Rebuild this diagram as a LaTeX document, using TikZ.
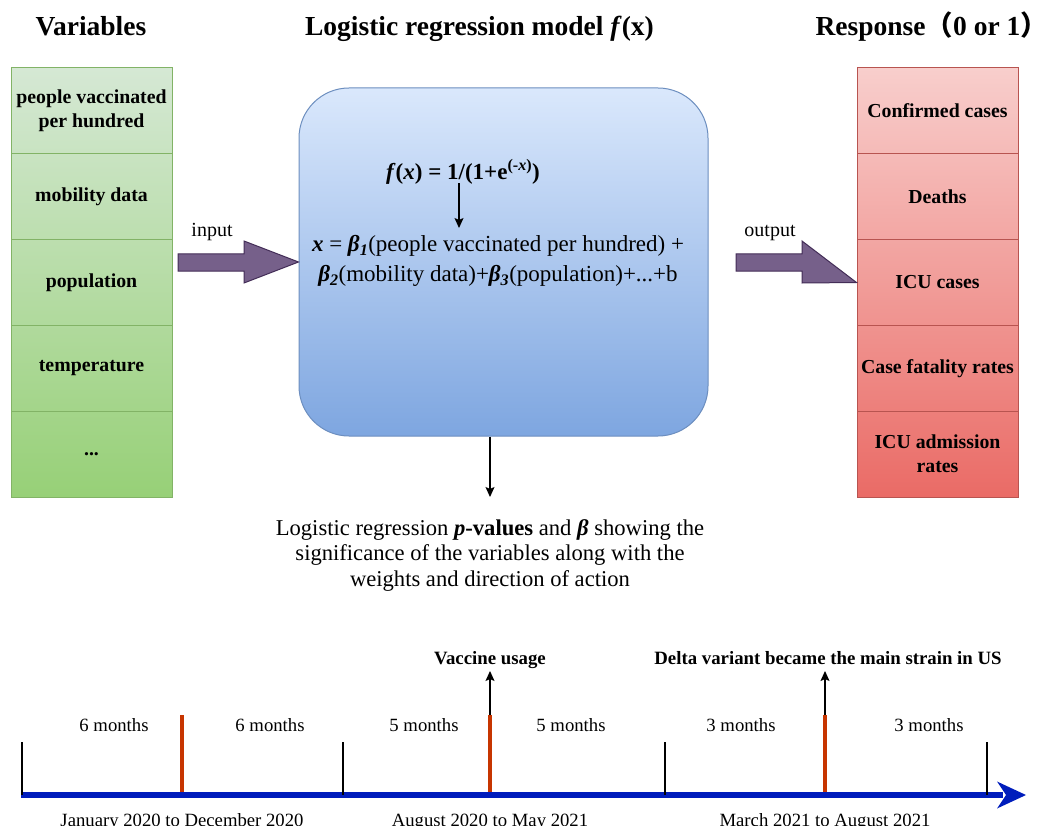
\documentclass[tikz,border=0pt]{standalone}
\usepackage{fontspec}
\setmainfont{Liberation Serif}
\newfontfamily\cjk{Noto Sans CJK SC}
\usetikzlibrary{arrows.meta}
\definecolor{grT}{HTML}{D5E8D4}
\definecolor{grB}{HTML}{97D077}
\definecolor{grD}{HTML}{82B366}
\definecolor{rdT}{HTML}{F8CECC}
\definecolor{rdB}{HTML}{EA6B66}
\definecolor{rdD}{HTML}{B85450}
\definecolor{blT}{HTML}{DAE8FC}
\definecolor{blB}{HTML}{7EA6E0}
\definecolor{blD}{HTML}{6C8EBF}
\definecolor{puF}{HTML}{76608A}
\definecolor{puD}{HTML}{432D57}
\definecolor{tlBlue}{HTML}{001DBC}
\definecolor{tlRed}{HTML}{C73500}
\tikzset{
  ttl/.style={font=\fontsize{27.5}{32}\selectfont\bfseries, anchor=base, inner sep=0pt},
  cell/.style={draw=#1, line width=1pt, minimum width=161pt, minimum height=85.8pt,
    inner sep=1pt, align=center,
    font=\fontsize{19.8}{24}\selectfont\bfseries},
  fat/.style={fill=puF, draw=puD, line width=1pt},
  arr/.style={line width=1.2pt, -{Stealth[length=10pt,width=9pt,inset=2pt]}},
  lbl/.style={font=\fontsize{18.7}{22}\selectfont, anchor=base, inner sep=0pt},
  evl/.style={font=\fontsize{18.8}{22}\selectfont\bfseries, anchor=base, inner sep=0pt},
  io/.style={font=\fontsize{20}{22}\selectfont, anchor=base, inner sep=0pt},
  tick/.style={line width=1.5pt, black},
  rtick/.style={line width=4pt, tlRed},
}
\begin{document}
\begin{tikzpicture}[x=1pt,y=-1pt]
\useasboundingbox (0,0) rectangle (1038,826);

% titles
\node[ttl] (t1) at (91,36) {Variables};
\node[ttl] (t2) at (479.5,36) {Logistic regression model \textit{f}(x)};
\node[ttl, anchor=base east] (t3) at (1031,36) {Response{\cjk（}0 or 1{\cjk\makebox[0.38em][l]{）}}};

% left column
\shade[top color=grT, bottom color=grB] (11,68) rectangle (172,497);
\node[cell=grD] (v1) at (91.5,110.9) {people vaccinated\\per hundred};
\node[cell=grD] (v2) at (91.5,196.7) {mobility data};
\node[cell=grD] (v3) at (91.5,282.5) {population};
\node[cell=grD] (v4) at (91.5,368.3) {temperature};
\node[cell=grD] (v5) at (91.5,454.1) {...};

% right column
\shade[top color=rdT, bottom color=rdB] (857,68) rectangle (1018,497);
\node[cell=rdD] (r1) at (937.5,110.9) {Confirmed cases};
\node[cell=rdD] (r2) at (937.5,196.7) {Deaths};
\node[cell=rdD] (r3) at (937.5,282.5) {ICU cases};
\node[cell=rdD] (r4) at (937.5,368.3) {Case fatality rates};
\node[cell=rdD] (r5) at (937.5,454.1) {ICU admission\\rates};

% model box
\node[draw=blD, line width=1pt, rounded corners=50pt, top color=blT, bottom color=blB,
  minimum width=409pt, minimum height=348pt] (model) at (503.5,262) {};
\node[font=\fontsize{23}{26}\selectfont\bfseries, anchor=base, inner sep=1pt] (fx) at (463,180)
  {\textit{f}(\textit{x}) = 1/(1+e\textsuperscript{(-\textit{x})})};
\node[font=\fontsize{23}{30}\selectfont, align=center, inner sep=1pt] (xeq) at (498,261)
  {\textbf{\textit{x}} = \textbf{\textit{β}}\textsubscript{\textbf{\textit{1}}}(people vaccinated per hundred) +\\
   \textbf{\textit{β}}\textsubscript{\textbf{\textit{2}}}(mobility data)+\textbf{\textit{β}}\textsubscript{\textbf{\textit{3}}}(population)+...+b};
\coordinate (ax) at (459,0);
\coordinate (axb) at (459,228);
\draw[arr] ([yshift=3pt]fx.south -| ax) -- (axb);

% input / output arrows
\node[io] (inp) at (212,237) {input};
\node[io] (outp) at (770,237) {output};
\draw[fat] (178,254) -- (244,254) -- (244,241) -- (model.west |- 0,262) -- (244,283) -- (244,271) -- (178,271) -- cycle;
\draw[fat] (736,254) -- (802,254) -- (802,241) -- (r3.west) -- (802,283) -- (802,271) -- (736,271) -- cycle;

% result text
\node[font=\fontsize{22.6}{25.5}\selectfont, align=center, inner sep=0pt] (res) at (490,555)
  {Logistic regression \textbf{\textit{p}-values} and \textbf{\textit{β}} showing the\\
   significance of the variables along with the\\
   weights and direction of action};
\coordinate (resTop) at (490,497);
\draw[arr] (model.south -| res) -- (resTop);

% timeline
\draw[line width=6pt, tlBlue] (21,795) -- (1003,795);
\fill[tlBlue] (1026,795) -- (997,781.5) -- (1006,795) -- (997,808.5) -- cycle;
\foreach \xx in {22,343,665,987} \draw[tick] (\xx,742) -- (\xx,795);
\foreach \xx in {182,490,825} \draw[rtick] (\xx,715) -- (\xx,792);

\node[lbl] (m1) at (114,731) {6 months};
\node[lbl] (m2) at (270,731) {6 months};
\node[lbl] (m3) at (424,731) {5 months};
\node[lbl] (m4) at (571,731) {5 months};
\node[lbl] (m5) at (741,731) {3 months};
\node[lbl] (m6) at (929,731) {3 months};

\node[lbl] (p1) at (182,826) {January 2020 to December 2020};
\node[lbl] (p2) at (490,826) {August 2020 to May 2021};
\node[lbl] (p3) at (825,826) {March 2021 to August 2021};

\node[evl] (e1) at (490,664) {Vaccine usage};
\node[evl] (e2) at (828,664) {Delta variant became the main strain in US};
\coordinate (ev1) at (490,715);
\coordinate (ev2) at (825,715);
\coordinate (ev1t) at (490,671);
\coordinate (ev2t) at (825,671);
\draw[arr] (ev1) -- (ev1t);
\draw[arr] (ev2) -- (ev2t);
\end{tikzpicture}
\end{document}
